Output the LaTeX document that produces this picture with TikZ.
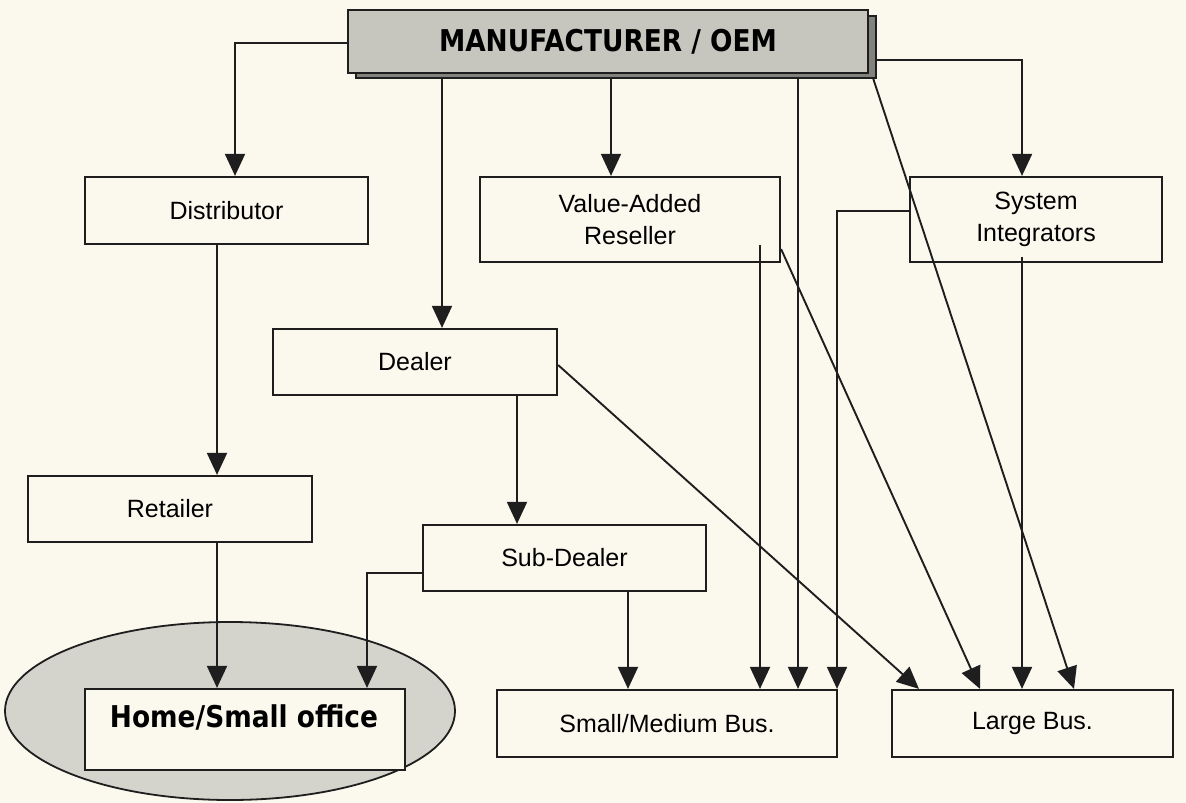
\documentclass[tikz,border=0pt]{standalone}
\usepackage{fontspec}
\setmainfont{Liberation Sans}
\newfontfamily\tah[FakeStretch=0.88]{DejaVu Sans}
\usetikzlibrary{arrows.meta,shapes.geometric,calc}
\definecolor{ink}{RGB}{30,30,30}
\definecolor{paper}{RGB}{251,249,238}
\definecolor{blob}{RGB}{212,212,204}
\definecolor{mangray}{RGB}{198,198,190}
\definecolor{shadowgray}{RGB}{130,130,125}
\begin{document}
\begin{tikzpicture}[x=1pt,y=-1pt,
  box/.style={draw=ink, line width=2.2pt, fill=paper, inner sep=0pt, align=center,
    font=\fontsize{25}{32}\selectfont},
  arr/.style={draw=ink, line width=1.9pt, -{Triangle[width=20pt,length=22pt]}},
  bold/.style={font=\tah\bfseries\fontsize{30}{30}\selectfont, inner sep=0pt}]
\fill[paper] (0,0) rectangle (1186,803);
\useasboundingbox (0,0) rectangle (1186,803);

% manufacturer box with shadow
\node[draw=ink, line width=1.4pt, fill=shadowgray, minimum width=520pt, minimum height=62pt, inner sep=0pt] (mansh) at (616,47) {};
\node[draw=ink, line width=1.4pt, fill=mangray, minimum width=520pt, minimum height=63pt, inner sep=0pt, bold] (man) at (608,41.5) {MANUFACTURER / OEM};

% home ellipse
\node[ellipse, draw=ink, line width=1.8pt, fill=blob, minimum width=450pt, minimum height=178pt, inner sep=0pt] (cloud) at (230,711) {};

% boxes
\node[box, minimum width=283pt, minimum height=67pt] (dist) at (226.5,210.5) {Distributor};
\node[box, minimum width=284pt, minimum height=66pt] (dealer) at (415,362) {Dealer};
\node[box, minimum width=284pt, minimum height=66pt] (retail) at (170,509) {Retailer};
\node[box, minimum width=283pt, minimum height=66pt] (sub) at (564.5,558) {Sub-Dealer};
\node[box, minimum width=300pt, minimum height=85pt] (var) at (630,219.5) {Value-Added\\Reseller};
\node[box, minimum width=252pt, minimum height=85pt] (si) at (1036,219.5) {System\\Integrators};
\node[box, minimum width=320pt, minimum height=81pt] (home) at (245,729.5) {};
\node[bold] (hometxt) at (244,717) {Home/Small office};
\node[box, minimum width=340pt, minimum height=67pt] (smb) at (667,723.5) {Small/Medium Bus.};
\node[box, minimum width=281pt, minimum height=67pt] (large) at (1032.5,723.5) {Large Bus.};

% helper coordinates
\coordinate (manbot) at (0,78);
\coordinate (kDist) at (235,43);
\coordinate (xDeal) at (442,0);
\coordinate (xVar) at (611,0);
\coordinate (xSm4) at (798,0);
\coordinate (kSI) at (1022,60);
\coordinate (manDiag) at (873,78);
\coordinate (xLg4) at (1074,0);
\coordinate (xDistOut) at (217,0);
\coordinate (xSubDn) at (517,0);
\coordinate (xLg1) at (919,0);
\coordinate (kSub) at (367,573);
\coordinate (xSm1) at (628,0);
\coordinate (varin) at (760,245);
\coordinate (xLg2) at (980,0);
\coordinate (kSI2) at (837,211);
\coordinate (siin) at (1022,257);

% connectors
\draw[arr] (man.west |- kDist) -- (kDist) -- (kDist |- dist.north);
\draw[arr] (xDeal |- manbot) -- (xDeal |- dealer.north);
\draw[arr] (xVar |- manbot) -- (xVar |- var.north);
\draw[arr] (xSm4 |- manbot) -- (xSm4 |- smb.north);
\draw[arr] (mansh.east |- kSI) -- (kSI) -- (kSI |- si.north);
\draw[arr] (manDiag) -- (xLg4 |- large.north);
\draw[arr] (xDistOut |- dist.south) -- (xDistOut |- retail.north);
\draw[arr] (xDistOut |- retail.south) -- (xDistOut |- home.north);
\draw[arr] (xSubDn |- dealer.south) -- (xSubDn |- sub.north);
\draw[arr] ($(dealer.east)+(0,3)$) -- (xLg1 |- large.north);
\draw[arr] (sub.west |- kSub) -- (kSub) -- (kSub |- home.north);
\draw[arr] (xSm1 |- sub.south) -- (xSm1 |- smb.north);
\draw[arr] (varin) -- (varin |- smb.north);
\draw[arr] ($(var.south east)+(0,-14)$) -- (xLg2 |- large.north);
\draw[arr] (si.west |- kSI2) -- (kSI2) -- (kSI2 |- smb.north);
\draw[arr] (siin) -- (siin |- large.north);
\end{tikzpicture}
\end{document}
